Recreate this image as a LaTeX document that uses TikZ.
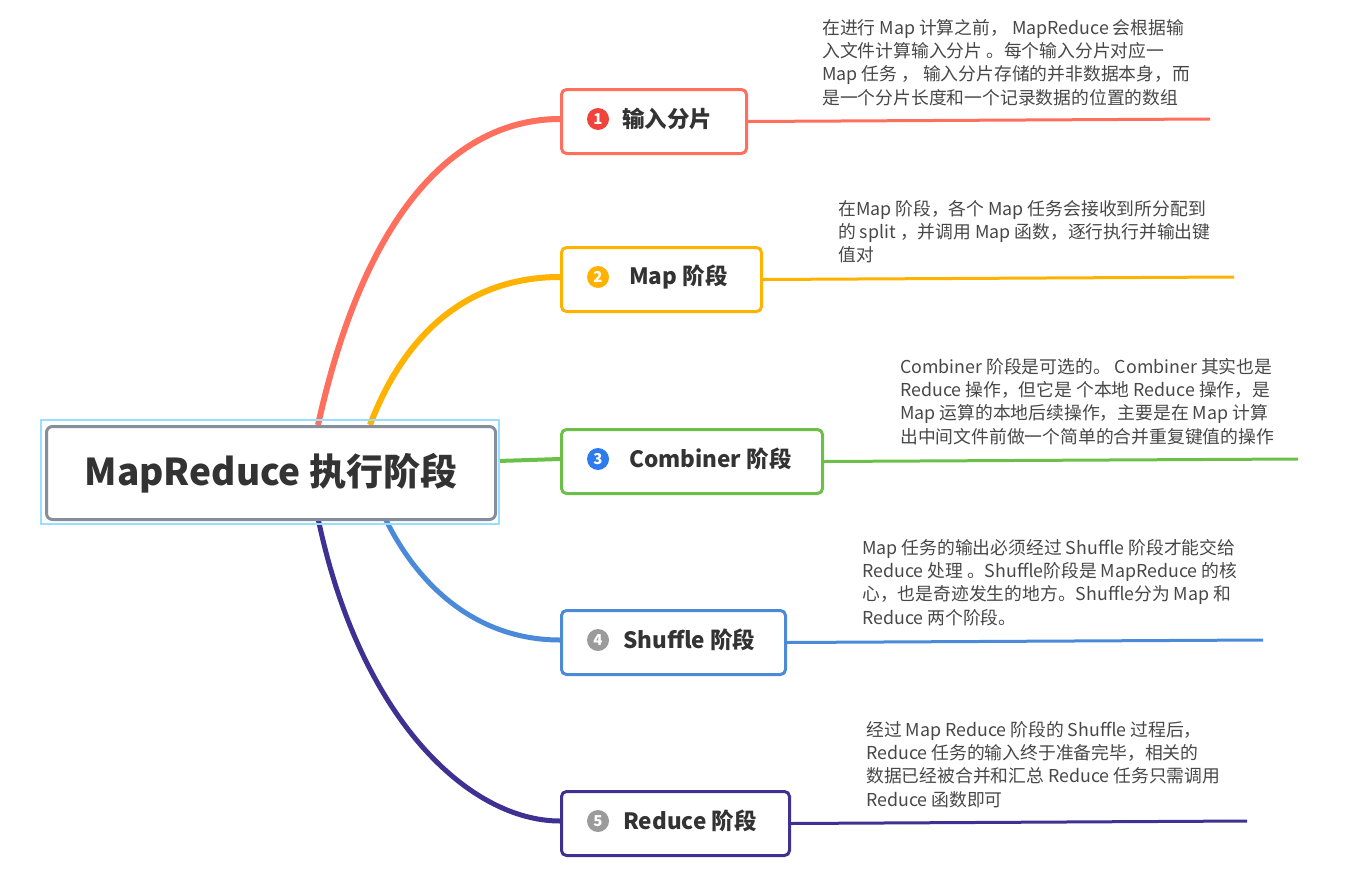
\documentclass[tikz,border=0pt]{standalone}
\usepackage{fontspec}
\setmainfont{Noto Sans CJK SC}
\begin{document}
\begin{tikzpicture}[x=1pt,y=-1pt,
  br/.style={draw,line width=3pt,rounded corners=5pt,fill=white,inner sep=0pt,anchor=north west},
  bt/.style={anchor=west,font=\bfseries\fontsize{22.5}{26}\selectfont,text=black!80,inner sep=0pt},
  badge/.style={circle,fill=#1,text=white,inner sep=0pt,minimum size=22pt,font=\bfseries\fontsize{15}{15}\selectfont},
  desc/.style={anchor=north west,align=left,text=black!72,font=\fontsize{17.8}{23.3}\selectfont,inner sep=0pt}]
\definecolor{cr}{HTML}{FF6F5E}\definecolor{cy}{HTML}{FFB300}\definecolor{cg}{HTML}{6CC04A}
\definecolor{cb}{HTML}{4A8AD8}\definecolor{cp}{HTML}{3F3192}\definecolor{bb}{HTML}{2E7BF0}
\definecolor{bg}{HTML}{9B9B9B}\definecolor{rg}{HTML}{878E9B}\definecolor{lb}{HTML}{99DDFF}
\definecolor{br1}{HTML}{F0443A}
\useasboundingbox (0,0) rectangle (1360,881);
% curves
\coordinate (r1) at (318,425); \coordinate (r2) at (370,425);
\coordinate (r3) at (498,461); \coordinate (r4) at (385,518); \coordinate (r5) at (318,518);
\draw[cr,line width=6pt] (r1) .. controls (370,190) and (470,119) .. (560,119) coordinate (e1);
\draw[cy,line width=6pt] (r2) .. controls (410,320) and (480,277) .. (560,277) coordinate (e2);
\draw[cg,line width=4pt] (r3) -- (560,459) coordinate (e3);
\draw[cb,line width=5pt] (r4) .. controls (420,590) and (480,640) .. (560,640) coordinate (e4);
\draw[cp,line width=5pt] (r5) .. controls (360,720) and (470,821) .. (560,821) coordinate (e5);
% root
\node[draw=lb,line width=1.5pt,minimum width=458pt,minimum height=104pt,anchor=north west,inner sep=0pt] (rootout) at (40,419) {};
\node[draw=rg,line width=3pt,rounded corners=6pt,fill=white,minimum width=449pt,minimum height=93pt,anchor=north west,inner sep=0pt,font=\bfseries\fontsize{37}{42}\selectfont,text=black!80] (root) at (45,425) {MapReduce 执行阶段};
% branches
\node[br,draw=cr,minimum width=185pt,minimum height=64pt] (b1) at (560,88) {};
\node[badge=br1] (n1) at (598,119) {1};
\node[bt] (t1) at (622,119) {输入分片};
\node[br,draw=cy,minimum width=200pt,minimum height=64pt] (b2) at (560,246) {};
\node[badge=cy] (n2) at (598,277) {2};
\node[bt] (t2) at (629,277) {Map 阶段};
\node[br,draw=cg,minimum width=261pt,minimum height=64pt] (b3) at (560,428) {};
\node[badge=bb] (n3) at (598,459) {3};
\node[bt] (t3) at (629,459) {Combiner 阶段};
\node[br,draw=cb,minimum width=224pt,minimum height=64pt] (b4) at (560,609) {};
\node[badge=bg] (n4) at (598,640) {4};
\node[bt] (t4) at (623,640) {Shuffle 阶段};
\node[br,draw=cp,minimum width=228pt,minimum height=64pt] (b5) at (560,790) {};
\node[badge=bg] (n5) at (598,821) {5};
\node[bt] (t5) at (623,821) {Reduce 阶段};
% right lines
\coordinate (f1) at (1210,119); \coordinate (f2) at (1234,277); \coordinate (f3) at (1298,459);
\coordinate (f4) at (1263,640); \coordinate (f5) at (1247,821);
\draw[cr,line width=3pt] (b1.east) -- (f1);
\draw[cy,line width=3pt] (b2.east) -- (f2);
\draw[cg,line width=3pt] (b3.east) -- (f3);
\draw[cb,line width=3pt] (b4.east) -- (f4);
\draw[cp,line width=3pt] (b5.east) -- (f5);
% descriptions
\node[desc] (d1) at (822,19) {在进行 Map 计算之前， MapReduce 会根据输\\入文件计算输入分片 。每个输入分片对应一\\Map 任务 ， 输入分片存储的并非数据本身，而\\是一个分片长度和一个记录数据的位置的数组};
\node[desc] (d2) at (838,200) {在Map 阶段，各个 Map 任务会接收到所分配到\\的 split ，并调用 Map 函数，逐行执行并输出键\\值对};
\node[desc] (d3) at (900,358) {Combiner 阶段是可选的。 Combiner 其实也是\\Reduce 操作，但它是 个本地 Reduce 操作，是\\Map 运算的本地后续操作，主要是在 Map 计算\\出中间文件前做一个简单的合并重复键值的操作};
\node[desc] (d4) at (862,539) {Map 任务的输出必须经过 Shuffle 阶段才能交给\\Reduce 处理 。Shuffle阶段是 MapReduce 的核\\心，也是奇迹发生的地方。Shuffle分为 Map 和\\Reduce 两个阶段。};
\node[desc] (d5) at (866,721) {经过 Map Reduce 阶段的 Shuffle 过程后，\\Reduce 任务的输入终于准备完毕，相关的\\数据已经被合并和汇总 Reduce 任务只需调用\\Reduce 函数即可};
\end{tikzpicture}
\end{document}
